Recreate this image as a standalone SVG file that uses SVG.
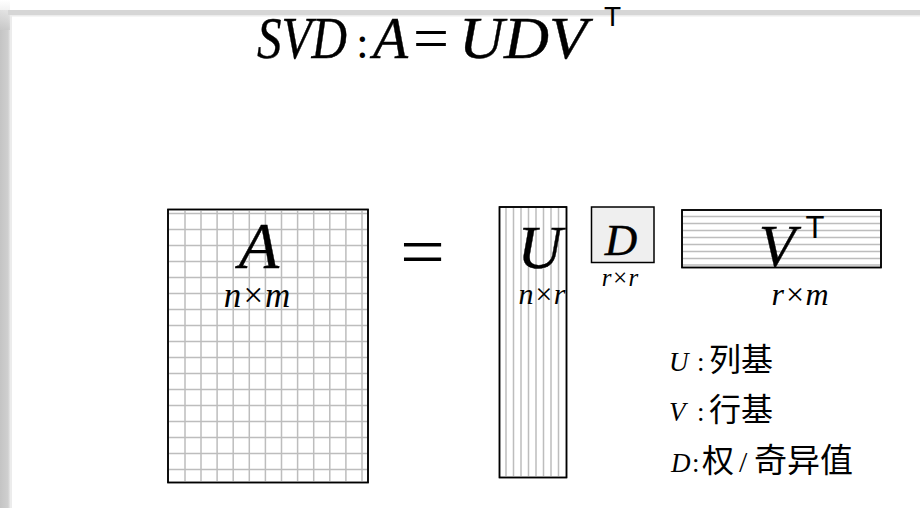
<svg xmlns="http://www.w3.org/2000/svg" width="920" height="508" viewBox="0 0 920 508">
<defs>
<linearGradient id="lg" x1="0" y1="0" x2="1" y2="0">
<stop offset="0" stop-color="#c4c4c4"/><stop offset="0.8" stop-color="#cfcfcf"/><stop offset="1" stop-color="#e6e6e6"/>
</linearGradient>
<linearGradient id="lgTop" x1="0" y1="0" x2="0" y2="1">
<stop offset="0" stop-color="#ffffff"/><stop offset="1" stop-color="#c8c8c8"/>
</linearGradient>
<style>
.m{font-family:"Liberation Serif","Times New Roman",serif;font-style:italic;fill:#000}
.big{stroke:#000;stroke-width:0.4}
.u{font-family:"Liberation Serif","Times New Roman",serif;fill:#000}
.s{font-family:"Liberation Sans",Arial,sans-serif;fill:#000}
.cjk{font-family:"Noto Sans CJK SC","Noto Sans CJK TC",sans-serif;fill:#000}
.box{fill:#fff;stroke:#000;stroke-width:1.5}
.grid{fill:none;stroke:#bdbdbd;stroke-width:1.5}
</style>
</defs>
<rect width="920" height="508" fill="#fff"/>
<g id="frame">
<rect x="0" y="10" width="10" height="498" fill="url(#lg)"/>
<rect x="0" y="0" width="10" height="30" fill="url(#lgTop)" opacity="0.7"/>
<rect x="8" y="10" width="912" height="5" fill="#d6d6d6"/>
<rect x="10" y="15" width="910" height="1.5" fill="#ececec"/>
<rect x="10" y="15" width="2" height="493" fill="#ececec"/>
</g>
<g id="title">
<text class="m big" x="257" y="58" font-size="60" textLength="90" lengthAdjust="spacingAndGlyphs">SVD</text>
<text class="u" x="356" y="58" font-size="46">:</text>
<text class="m big" x="373" y="58" font-size="60" textLength="35" lengthAdjust="spacingAndGlyphs">A</text>
<text class="u" x="413" y="58" font-size="60" textLength="36" lengthAdjust="spacingAndGlyphs">=</text>
<text class="m big" x="459" y="58" font-size="60" textLength="128" lengthAdjust="spacingAndGlyphs">UDV</text>
<text class="s" x="604" y="26" font-size="28">T</text>
</g>
<g id="matrixA">
<rect class="box" x="168" y="209.5" width="200" height="273"/>
<path class="grid" d="M185 210.5V482M201 210.5V482M217.1 210.5V482M233.2 210.5V482M249.3 210.5V482M265.4 210.5V482M281.5 210.5V482M297.6 210.5V482M313.7 210.5V482M329.8 210.5V482M345.9 210.5V482M362 210.5V482
M169 213.5H367M169 229.5H367M169 245.5H367M169 261.5H367M169 277.5H367M169 293.5H367M169 309.5H367M169 325.5H367M169 341.5H367M169 357.5H367M169 373.5H367M169 389.5H367M169 405.5H367M169 421.5H367M169 437.5H367M169 453.5H367M169 469.5H367"/>
<rect x="168" y="209.5" width="200" height="273" fill="none" stroke="#000" stroke-width="1.5"/>
<text class="m big" x="259" y="268" font-size="66" text-anchor="middle">A</text>
<text class="m" x="257" y="307" font-size="35" text-anchor="middle">n×m</text>
</g>
<g id="equals">
<text class="u" x="400" y="276" font-size="72" textLength="45" lengthAdjust="spacingAndGlyphs">=</text>
</g>
<g id="matrixU">
<rect class="box" x="499.5" y="207" width="67" height="270.5"/>
<path class="grid" d="M506 208V477M513.5 208V477M521 208V477M528.5 208V477M536 208V477M543.5 208V477M551 208V477M558.5 208V477"/>
<rect x="499.5" y="207" width="67" height="270.5" fill="none" stroke="#000" stroke-width="1.5"/>
<text class="m big" x="540" y="268" font-size="62" text-anchor="middle">U</text>
<text class="m" x="542" y="304" font-size="30" text-anchor="middle">n×r</text>
</g>
<g id="matrixD">
<rect x="591.5" y="207" width="62.5" height="55.5" fill="#efefef" stroke="#000" stroke-width="1.5"/>
<text class="m big" x="621" y="255" font-size="45" text-anchor="middle">D</text>
<text class="m" x="620" y="286" font-size="25" text-anchor="middle">r×r</text>
</g>
<g id="matrixVT">
<rect class="box" x="682" y="210" width="199" height="57.5"/>
<path class="grid" d="M683 216.5H880M683 223.5H880M683 230.5H880M683 237.5H880M683 244.5H880M683 251.5H880M683 258.5H880M683 265H880"/>
<rect x="682" y="210" width="199" height="57.5" fill="none" stroke="#000" stroke-width="1.5"/>
<text class="m big" x="777" y="266" font-size="60" text-anchor="middle">V</text>
<text class="s" x="815" y="238" font-size="31" text-anchor="middle">T</text>
<text class="m" x="800" y="305" font-size="32" text-anchor="middle">r×m</text>
</g>
<g id="legend">
<text class="m" x="669" y="371" font-size="27">U</text>
<text class="u" x="697" y="371" font-size="27">:</text>
<text class="cjk" x="709" y="371" font-size="32">列基</text>
<text class="m" x="669" y="421" font-size="27">V</text>
<text class="u" x="697" y="421" font-size="27">:</text>
<text class="cjk" x="709" y="421" font-size="32">行基</text>
<text class="m" x="671" y="472" font-size="27">D</text>
<text class="u" x="692" y="472" font-size="27">:</text>
<text class="cjk" x="702" y="472" font-size="32">权</text>
<text class="u" x="739" y="472" font-size="30">/</text>
<text class="cjk" x="754" y="472" font-size="33">奇异值</text>
</g>
</svg>
